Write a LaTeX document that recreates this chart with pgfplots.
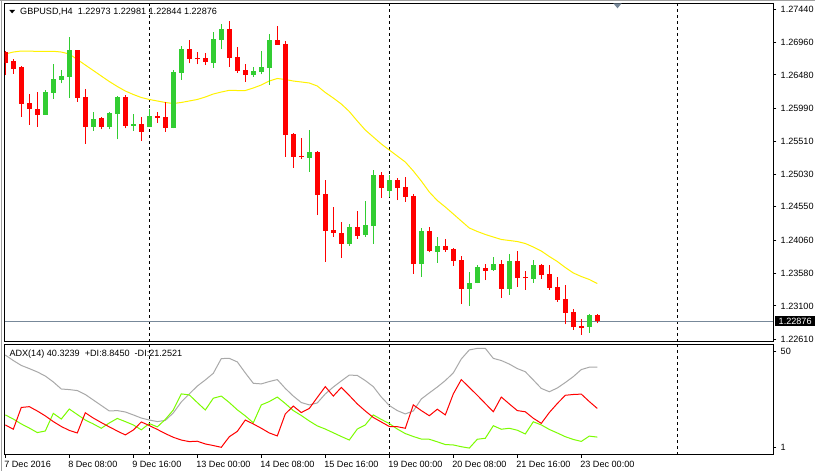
\documentclass[border=0pt]{standalone}
\usepackage{fontspec}
\setmainfont{Liberation Sans}
\usepackage{pgfplots}
\usepackage{pgfplotstable}
\pgfplotsset{compat=1.18}
\definecolor{bull}{RGB}{50,205,50}
\definecolor{bear}{RGB}{255,0,0}
\definecolor{adxgray}{RGB}{169,169,169}
\definecolor{pdigreen}{RGB}{124,252,0}
\definecolor{slate}{RGB}{119,136,153}
\definecolor{winborder}{RGB}{160,160,160}
\newcommand\mt{\fontsize{9.1}{10}\selectfont}
\pgfplotsset{candle/.style={only marks, mark=o, mark size=0pt,
  mark options={draw=none, fill=none, draw opacity=0, fill opacity=0}}}

\pgfplotstableread{
i O H L C
5 1.25894 1.26260 1.25894 1.26230
6 1.26220 1.26640 1.26132 1.26416
7 1.26406 1.26552 1.26358 1.26464
8 1.26454 1.27039 1.26147 1.26845
11 1.25723 1.25933 1.25664 1.25835
13 1.25723 1.25942 1.25685 1.25919
14 1.25908 1.26172 1.25538 1.26153
16 1.25733 1.25904 1.25660 1.25762
18 1.25723 1.25977 1.25723 1.25879
21 1.25708 1.26552 1.25699 1.26527
22 1.26513 1.26903 1.26406 1.26855
26 1.26659 1.27108 1.26586 1.27001
27 1.26991 1.27225 1.26855 1.27152
31 1.26483 1.26600 1.26454 1.26537
32 1.26523 1.26830 1.26489 1.26592
33 1.26586 1.27079 1.26333 1.26991
38 1.25269 1.25674 1.25064 1.25357
43 1.24007 1.24299 1.23978 1.24251
45 1.24138 1.24636 1.24114 1.24285
46 1.24270 1.25089 1.24007 1.25016
48 1.24786 1.25016 1.24699 1.24943
52 1.23714 1.24236 1.23528 1.24197
54 1.23894 1.24105 1.23733 1.23978
58 1.23349 1.23597 1.23104 1.23432
59 1.23441 1.23695 1.23432 1.23670
61 1.23626 1.23817 1.23612 1.23714
63 1.23349 1.23861 1.23261 1.23758
66 1.23495 1.23773 1.23441 1.23700
73 1.22797 1.22980 1.22709 1.22968
}\bulltab

\pgfplotstableread{
i O H L C
0 1.26820 1.26830 1.26479 1.26650
1 1.26688 1.26709 1.26494 1.26567
2 1.26600 1.26611 1.25869 1.26055
3 1.26065 1.26201 1.25748 1.25982
4 1.25982 1.26230 1.25723 1.25894
9 1.26845 1.26850 1.26088 1.26147
10 1.26153 1.26270 1.25470 1.25723
12 1.25846 1.25860 1.25685 1.25723
15 1.26153 1.26186 1.25699 1.25733
17 1.25762 1.25869 1.25514 1.25650
19 1.25879 1.25938 1.25781 1.25854
20 1.25869 1.26088 1.25650 1.25708
23 1.26855 1.26991 1.26650 1.26713
24 1.26728 1.26820 1.26635 1.26713
25 1.26728 1.26805 1.26625 1.26674
28 1.27152 1.27269 1.26600 1.26732
29 1.26738 1.26884 1.26513 1.26537
30 1.26552 1.26640 1.26381 1.26483
34 1.26991 1.27196 1.26918 1.26918
35 1.26932 1.26976 1.25284 1.25601
36 1.25616 1.25630 1.25123 1.25284
37 1.25298 1.25562 1.25250 1.25275
39 1.25357 1.25367 1.24431 1.24724
40 1.24738 1.24943 1.23748 1.24201
41 1.24212 1.24552 1.24114 1.24172
42 1.24163 1.24333 1.23806 1.24007
44 1.24251 1.24489 1.24084 1.24124
47 1.25016 1.25064 1.24684 1.24830
49 1.24943 1.24977 1.24650 1.24830
50 1.24845 1.24991 1.24626 1.24699
51 1.24709 1.24738 1.23568 1.23714
53 1.24197 1.24251 1.23885 1.23904
55 1.23978 1.24080 1.23890 1.23919
56 1.23934 1.23953 1.23685 1.23762
57 1.23773 1.23831 1.23129 1.23349
60 1.23656 1.23714 1.23480 1.23616
62 1.23714 1.23773 1.23221 1.23349
64 1.23758 1.23904 1.23382 1.23514
65 1.23528 1.23612 1.23334 1.23505
67 1.23700 1.23710 1.23495 1.23553
68 1.23568 1.23700 1.23334 1.23368
69 1.23382 1.23528 1.23163 1.23188
70 1.23202 1.23407 1.22832 1.23002
71 1.23012 1.23056 1.22749 1.22788
72 1.22807 1.22910 1.22676 1.22782
74 1.22973 1.22981 1.22844 1.22876
}\beartab

\pgfplotstableread{
i ma
0 1.26786
1 1.26815
2 1.26830
3 1.26830
4 1.26823
5 1.26823
6 1.26826
7 1.26815
8 1.26786
9 1.26706
10 1.26625
11 1.26545
12 1.26464
13 1.26384
14 1.26311
15 1.26245
16 1.26194
17 1.26150
18 1.26121
19 1.26099
20 1.26077
21 1.26062
22 1.26077
23 1.26099
24 1.26121
25 1.26157
26 1.26201
27 1.26230
28 1.26255
29 1.26252
30 1.26252
31 1.26289
32 1.26333
33 1.26391
34 1.26428
35 1.26413
36 1.26391
37 1.26377
38 1.26362
39 1.26318
40 1.26223
41 1.26142
42 1.26055
43 1.25945
44 1.25806
45 1.25674
46 1.25572
47 1.25470
48 1.25382
49 1.25294
50 1.25206
51 1.25075
52 1.24928
53 1.24767
54 1.24643
55 1.24548
56 1.24446
57 1.24343
58 1.24241
59 1.24190
60 1.24146
61 1.24109
62 1.24073
63 1.24058
64 1.24043
65 1.24014
66 1.23963
67 1.23904
68 1.23824
69 1.23751
70 1.23663
71 1.23583
72 1.23531
73 1.23488
74 1.23429
}\matab

\pgfplotstableread{
i adx mdi pdi
0 48.2 12.6 17.7
1 45.4 10.4 15.6
2 42.9 21.5 13.1
3 41.3 21.9 11.0
4 39.6 19.7 8.7
5 37.5 17.2 9.5
6 34.5 14.3 18.5
7 30.9 11.8 15.6
8 30.6 9.8 20.7
9 30.1 8.5 17.9
10 28.1 18.8 15.1
11 25.3 16.1 13.1
12 22.5 13.8 10.9
13 19.7 11.6 13.6
14 19.9 9.5 15.9
15 19.2 7.5 14.3
16 17.7 10.0 12.6
17 16.1 14.1 10.1
18 15.1 12.3 13.3
19 14.3 10.3 11.6
20 14.9 8.2 15.4
21 18.7 6.3 20.2
22 24.3 4.9 28.4
23 28.4 4.1 27.9
24 32.4 4.3 24.0
25 35.5 2.9 20.2
26 38.9 2.1 26.2
27 46.4 1.2 27.3
28 46.5 6.6 24.0
29 44.7 9.3 20.3
30 39.1 15.1 17.2
31 33.8 13.1 13.7
32 33.5 10.9 22.8
33 34.7 8.5 24.5
34 35.7 7.0 26.8
35 31.2 18.2 23.5
36 27.3 22.2 19.9
37 24.0 18.9 17.4
38 22.8 21.0 14.6
39 23.8 26.6 12.1
40 28.4 32.1 10.5
41 31.9 27.3 8.6
42 35.0 31.7 6.7
43 38.0 27.6 4.9
44 37.8 23.3 10.5
45 35.2 19.7 12.6
46 32.1 16.4 17.7
47 26.8 14.1 15.4
48 22.5 11.8 13.3
49 19.9 11.7 10.5
50 18.2 10.9 8.2
51 19.7 22.8 6.7
52 25.8 19.9 5.4
53 28.9 17.3 5.3
54 31.9 20.6 4.0
55 35.2 17.7 2.6
56 39.1 28.4 2.4
57 46.2 35.7 1.5
58 50.8 31.7 0.8
59 51.6 27.7 5.3
60 51.6 23.5 5.8
61 46.5 19.3 12.2
62 45.4 26.8 10.4
63 43.6 23.3 10.9
64 41.3 19.9 9.9
65 39.7 19.3 8.0
66 35.5 16.0 14.2
67 31.2 13.4 12.6
68 29.5 18.9 10.3
69 31.4 23.5 8.5
70 34.2 27.7 6.6
71 37.2 28.1 5.2
72 40.8 28.3 4.2
73 42.0 24.5 6.9
74 42.0 21.0 6.4
}\adxtab

\begin{document}
\begin{tikzpicture}
\useasboundingbox (0pt,0pt) rectangle (815pt,471pt);
\fill[white] (0pt,0pt) rectangle (815pt,471pt);
\draw[winborder, line width=1pt] (1.3pt,0pt) -- (1.3pt,471pt);
\draw[winborder, line width=1pt] (0pt,470.3pt) -- (815pt,470.3pt);

% ---------------- main price panel ----------------
\begin{scope}[shift={(4.7pt,129.3pt)}]
\begin{axis}[
  at={(0pt,0pt)}, anchor=south west, scale only axis,
  width=768.6pt, height=338.4pt,
  xmin=-0.075, xmax=96, ymin=1.225776, ymax=1.27528,
  axis line style={black, line width=1pt},
  xtick=\empty,
  ytick={1.2744,1.2696,1.2648,1.2599,1.2551,1.2503,1.2455,1.2406,1.2358,1.2310,1.2261},
  yticklabels={1.27440,1.26960,1.26480,1.25990,1.25510,1.25030,1.24550,1.24060,1.23580,1.23100,1.22610},
  ytick pos=right, tick align=outside, major tick length=3pt,
  tick style={black, line width=1pt},
  yticklabel style={font=\mt, anchor=west, inner sep=0pt, xshift=4.2pt},
  clip mode=individual,
]
\draw[black, line width=1pt, dash pattern=on 3pt off 3pt] (axis cs:18,1.225776) -- (axis cs:18,1.27528);
\draw[black, line width=1pt, dash pattern=on 3pt off 3pt] (axis cs:48,1.225776) -- (axis cs:48,1.27528);
\draw[black, line width=1pt, dash pattern=on 3pt off 3pt] (axis cs:84,1.225776) -- (axis cs:84,1.27528);
\addplot[slate, line width=1pt, mark=none] coordinates {(-0.075,1.22876) (96,1.22876)};
\addplot[yellow, line width=1pt, mark=none] table[x=i, y=ma] {\matab};
% wicks
\addplot[candle, error bars/.cd, y dir=plus, y explicit, error mark=none,
  error bar style={bull, line width=1pt}]
  table[x=i, y=L, y error expr=\thisrow{H}-\thisrow{L}] {\bulltab};
\addplot[candle, error bars/.cd, y dir=plus, y explicit, error mark=none,
  error bar style={bear, line width=1pt}]
  table[x=i, y=L, y error expr=\thisrow{H}-\thisrow{L}] {\beartab};
% bodies
\addplot[candle, error bars/.cd, y dir=plus, y explicit, error mark=none,
  error bar style={bull, line width=5pt}]
  table[x=i, y=O, y error expr=\thisrow{C}-\thisrow{O}] {\bulltab};
\addplot[candle, error bars/.cd, y dir=plus, y explicit, error mark=none,
  error bar style={bear, line width=5pt}]
  table[x=i, y=C, y error expr=\thisrow{O}-\thisrow{C}] {\beartab};
\node[fill=black, text=white, font=\mt, anchor=west, inner xsep=4.2pt, inner ysep=0pt,
  minimum height=10pt, xshift=1pt] at (axis cs:96,1.22876) {1.22876};
\end{axis}
\end{scope}

% header
\fill[black] (9.3pt,461pt) -- (15pt,461pt) -- (12.15pt,457.7pt) -- cycle;
\node[anchor=west, font=\mt, inner sep=0pt] at (20pt,459.3pt) {GBPUSD,H4\ \ 1.22973 1.22981 1.22844 1.22876};
\fill[slate] (613.3pt,467.7pt) -- (621.7pt,467.7pt) -- (617.5pt,462.7pt) -- cycle;

% ---------------- ADX panel ----------------
\begin{scope}[shift={(4.7pt,16pt)}]
\begin{axis}[
  at={(0pt,0pt)}, anchor=south west, scale only axis,
  width=768.6pt, height=110.7pt,
  xmin=-0.075, xmax=96, ymin=-2.72, ymax=53.67,
  axis line style={black, line width=1pt},
  ytick={1,50}, yticklabels={1,50},
  ytick pos=right,
  xtick={0,8,16,24,32,40,48,56,64,72},
  xticklabels={7 Dec 2016,8 Dec 08:00,9 Dec 16:00,13 Dec 00:00,14 Dec 08:00,15 Dec 16:00,19 Dec 00:00,20 Dec 08:00,21 Dec 16:00,23 Dec 00:00},
  xtick pos=bottom,
  tick align=outside, major tick length=3pt,
  tick style={black, line width=1pt},
  yticklabel style={font=\mt, anchor=west, inner sep=0pt, xshift=4.2pt},
  xticklabel style={font=\mt, anchor=north west, inner sep=0pt, xshift=-1.2pt, yshift=-3.4pt},
  clip mode=individual,
]
\draw[black, line width=1pt, dash pattern=on 3pt off 3pt] (axis cs:18,-2.72) -- (axis cs:18,53.67);
\draw[black, line width=1pt, dash pattern=on 3pt off 3pt] (axis cs:48,-2.72) -- (axis cs:48,53.67);
\draw[black, line width=1pt, dash pattern=on 3pt off 3pt] (axis cs:84,-2.72) -- (axis cs:84,53.67);
\addplot[adxgray, line width=1pt, mark=none] table[x=i, y=adx] {\adxtab};
\addplot[pdigreen, line width=1pt, mark=none] table[x=i, y=pdi] {\adxtab};
\addplot[bear, line width=1pt, mark=none] table[x=i, y=mdi] {\adxtab};
\end{axis}
\end{scope}
\node[anchor=west, font=\mt, inner sep=0pt] at (9.3pt,117pt) {ADX(14)\ 40.3239\ \ +DI:8.8450\ \ -DI:21.2521};
\end{tikzpicture}
\end{document}
